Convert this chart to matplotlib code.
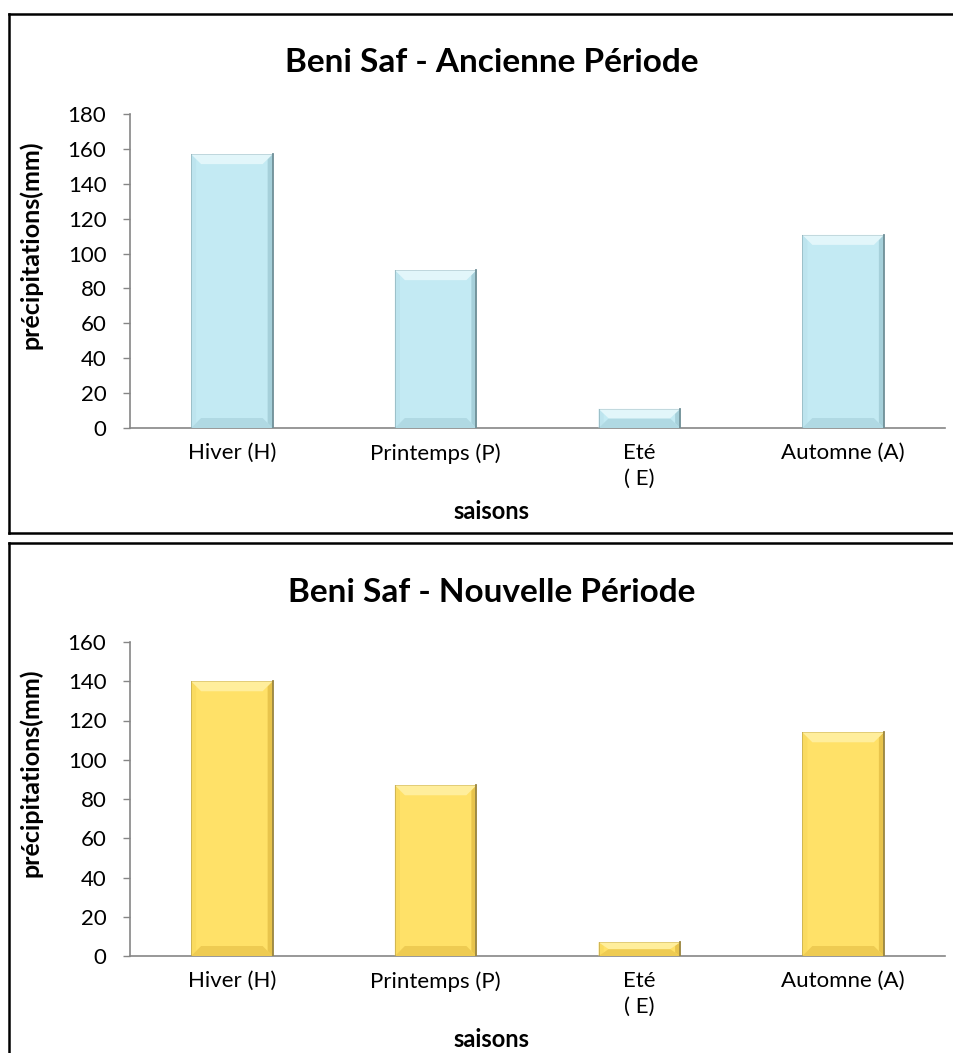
import numpy as np
import matplotlib.pyplot as plt
from matplotlib.patches import Polygon
from matplotlib.lines import Line2D

plt.rcParams['font.family'] = ['Lato', 'DejaVu Sans']

# données saisonnières (mm)
saisons = ['Hiver (H)', 'Printemps (P)', 'Eté\n( E)', 'Automne (A)']
pluie_ancienne = [157, 90.5, 11, 110.7]
pluie_nouvelle = [140, 87, 7, 114]
ticks_ancienne = list(range(0, 181, 20))
ticks_nouvelle = list(range(0, 161, 20))

W, H = 954, 1053
fig = plt.figure(figsize=(W / 100, H / 100), dpi=100)

bleu = dict(fond='#C3EAF3', haut='#E2F6FA', bas='#B0D9E3', gauche='#BDE4EE',
            droite='#A6D0DA', bord='#6F8F97')
jaune = dict(fond='#FFE168', haut='#FFEE9C', bas='#EECB52', gauche='#FADB60',
             droite='#E8C44C', bord='#9A8540')


def px_to_fig(x, y):
    return x / W, 1 - y / H


def barres_biseautees(ax, valeurs, c):
    bars = ax.bar(range(len(valeurs)), valeurs, width=0.4, color=c['fond'],
                  edgecolor='none', zorder=2)
    pos = ax.get_position()
    x_lo, x_hi = ax.get_xlim()
    y_lo, y_hi = ax.get_ylim()
    ux = (x_hi - x_lo) / (pos.width * W)   # unités par pixel
    uy = (y_hi - y_lo) / (pos.height * H)
    for b in bars:
        x0 = b.get_x()
        x1 = x0 + b.get_width()
        h = b.get_height()
        by = min(10 * uy, h / 2)
        bx = 10 * ux
        sx = 5 * ux
        polys = [
            ([(x0, 0), (x0 + sx, by * sx / bx), (x0 + sx, h - by * sx / bx), (x0, h)], c['gauche']),
            ([(x1, 0), (x1 - sx, by * sx / bx), (x1 - sx, h - by * sx / bx), (x1, h)], c['droite']),
            ([(x0, 0), (x1, 0), (x1 - bx, by), (x0 + bx, by)], c['bas']),
            ([(x0, h), (x1, h), (x1 - bx, h - by), (x0 + bx, h - by)], c['haut']),
        ]
        for pts, col in polys:
            ax.add_patch(Polygon(pts, closed=True, facecolor=col,
                                 edgecolor='none', zorder=3))
        # contour sombre à droite, plus léger ailleurs
        ax.plot([x1, x1], [0, h], color=c['bord'], lw=1.3, zorder=4)
        ax.plot([x0, x0], [0, h], color=c['bord'], lw=0.6, alpha=0.5, zorder=4)
        ax.plot([x0, x1], [h, h], color=c['bord'], lw=0.5, alpha=0.4, zorder=4)


def graphique(ax, valeurs, ticks, c, titre, y_titre):
    ax.set_xlim(-0.5, len(valeurs) - 0.5)
    ax.set_ylim(0, ticks[-1])
    ax.set_yticks(ticks)
    ax.set_xticks(range(len(saisons)))
    ax.set_xticklabels(saisons, fontsize=16, linespacing=1.35)
    ax.tick_params(axis='y', labelsize=16, length=5, width=1, color='#868686', pad=12)
    ax.tick_params(axis='x', length=0, pad=11)
    for s in ['top', 'right']:
        ax.spines[s].set_visible(False)
    for s in ['left', 'bottom']:
        ax.spines[s].set_color('#868686')
        ax.spines[s].set_linewidth(1.2)
    barres_biseautees(ax, valeurs, c)
    ax.set_ylabel('précipitations(mm)', fontsize=18, fontweight='bold')
    ax.yaxis.set_label_coords(-0.107, 0.583)
    ax.set_xlabel('saisons', fontsize=17, fontweight='bold')
    ax.xaxis.set_label_coords(0.443, -0.265)
    ax.xaxis.label.set_va('center')
    fig.text(492 / W, 1 - y_titre / H, titre, fontsize=24, fontweight='bold',
             ha='center', va='center')


ax1 = fig.add_axes([130 / W, 1 - 428 / H, 815 / W, 314 / H])
graphique(ax1, pluie_ancienne, ticks_ancienne, bleu,
          'Beni Saf - Ancienne Période', 63)

ax2 = fig.add_axes([130 / W, 1 - 956 / H, 815 / W, 314 / H])
graphique(ax2, pluie_nouvelle, ticks_nouvelle, jaune,
          'Beni Saf - Nouvelle Période', 592)

# cadres des deux graphiques
cadres = [
    [(9, 14), (960, 14)],
    [(9, 14), (9, 533)],
    [(9, 533), (960, 533)],
    [(9, 543), (960, 543)],
    [(9, 543), (9, 1060)],
]
for (xa, ya), (xb, yb) in cadres:
    pa, pb = px_to_fig(xa, ya), px_to_fig(xb, yb)
    fig.add_artist(Line2D([pa[0], pb[0]], [pa[1], pb[1]],
                          transform=fig.transFigure, color='black', lw=1.8))

fig.savefig('out.png', dpi=100)
